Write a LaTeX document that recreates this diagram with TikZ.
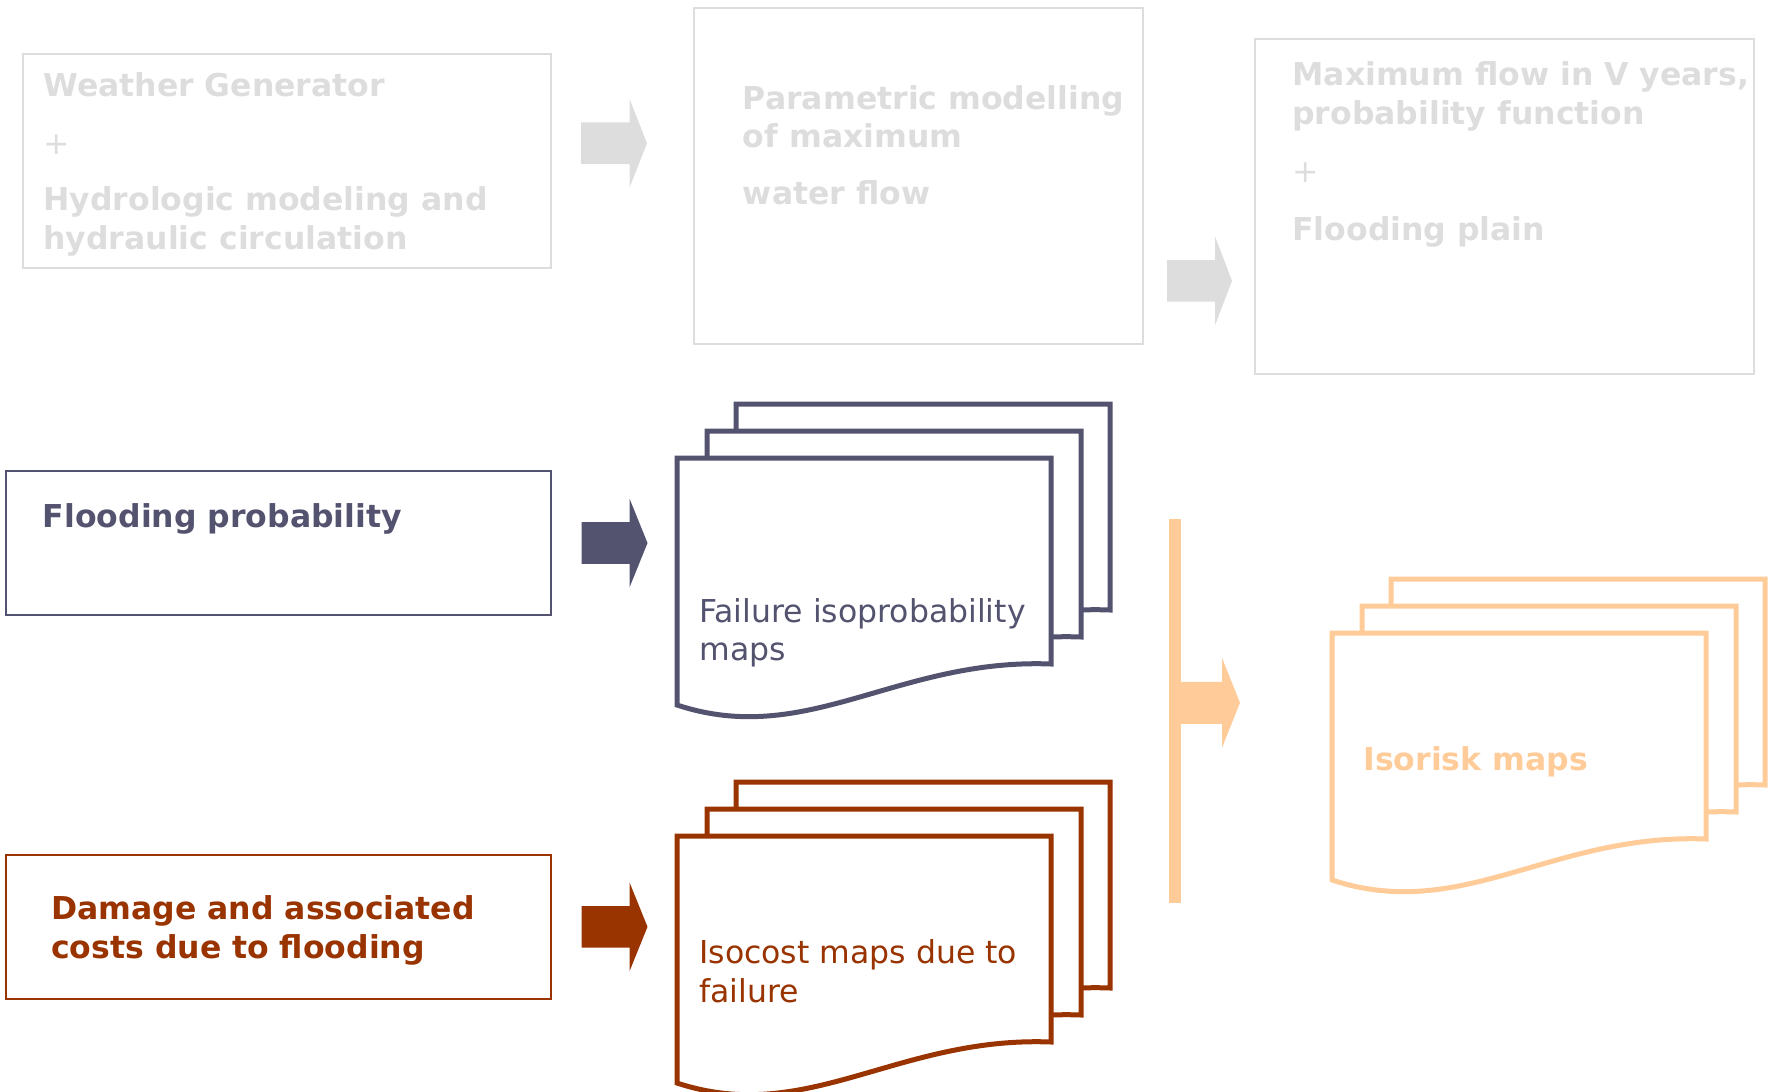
\documentclass[tikz,border=0pt]{standalone}
\usepackage{fontspec}
\setmainfont{DejaVu Sans}
\definecolor{lgrey}{HTML}{DDDDDD}
\definecolor{slate}{HTML}{535370}
\definecolor{rust}{HTML}{993300}
\definecolor{peach}{HTML}{FFCC99}
\tikzset{
  txt/.style={anchor=base west, inner sep=0pt, font=\fontsize{15.75pt}{19.25pt}\selectfont},
  btxt/.style={anchor=base west, inner sep=0pt, font=\fontsize{15.75pt}{19.25pt}\selectfont\bfseries},
  box/.style={draw, line width=1pt, inner sep=0pt},
  page/.style={fill=white, line width=2.5pt},
}
% block arrow: tail-centre coordinate, colour, shaft length, shaft half height, head half height, head length
\newcommand\blockarrow[6]{%
  \fill[#2] (#1) ++(0,-#4) -- ++(#3,0) -- ++(0,#4-#5) -- ++(#6,#5) -- ++(-#6,#5) -- ++(0,#4-#5) -- ++(-#3,0) -- cycle;}
% stack of three document pages, front page top-left at (#1,#2)
\newcommand\docstack[3]{%
  \foreach \dx/\dy in {59/-54, 30/-27, 0/0}{%
    \draw[page, draw=#3, shift={(#1+\dx,#2+\dy)}] (0,0) -- (374,0) -- (374,206)
      .. controls (220,200) and (130,290) .. (0,247) -- cycle;}}
\begin{document}
\begin{tikzpicture}[x=0.5pt, y=-0.5pt]
\useasboundingbox (0,0) rectangle (1770,1091);

% ---- top row (grey)
\node[box, draw=lgrey, minimum width=264pt, minimum height=107pt] (b1) at (286.5,161) {};
\node[box, draw=lgrey, minimum width=224.25pt, minimum height=167.5pt] (b2) at (918.25,176) {};
\node[box, draw=lgrey, minimum width=249.5pt, minimum height=167.25pt] (b3) at (1504,206.75) {};

\node[btxt, text=lgrey] (t1a) at (43,96.7) {Weather Generator};
\node[txt, text=lgrey] (t1b) at (43,155) {+};
\node[btxt, text=lgrey] (t1c) at (43,210.7) {Hydrologic modeling and};
\node[btxt, text=lgrey] (t1d) at (43,249.3) {hydraulic circulation};

\node[btxt, text=lgrey] (t2a) at (742.5,109.3) {Parametric modelling};
\node[btxt, text=lgrey] (t2b) at (742.5,147.7) {of maximum};
\node[btxt, text=lgrey] (t2c) at (742.5,204.3) {water flow};

\node[btxt, text=lgrey] (t3a) at (1292,86) {Maximum flow in V years,};
\node[btxt, text=lgrey] (t3b) at (1292,125) {probability function};
\node[txt, text=lgrey] (t3c) at (1292,183) {+};
\node[btxt, text=lgrey] (t3d) at (1292,240.5) {Flooding plain};

\coordinate (a1) at (581,143.3);
\coordinate (a2) at (1167,280.8);
\blockarrow{a1}{lgrey}{48.5}{20.8}{44.5}{17.5}
\blockarrow{a2}{lgrey}{48}{20.8}{44.5}{17}

% ---- middle row (slate)
\node[box, draw=slate, minimum width=272.25pt, minimum height=72.25pt] (b4) at (278.25,542.75) {};
\node[btxt, text=slate] (t4) at (42.5,527.7) {Flooding probability};
\coordinate (a4) at (581.5,543);
\blockarrow{a4}{slate}{48}{20.8}{44.5}{18}
\docstack{677}{458}{slate}
\node[txt, text=slate] (d4a) at (699,622.5) {Failure isoprobability};
\node[txt, text=slate] (d4b) at (699,660.5) {maps};

% ---- bottom row (rust)
\node[box, draw=rust, minimum width=272.25pt, minimum height=72.25pt] (b5) at (278.25,926.75) {};
\node[btxt, text=rust] (t5a) at (50.8,919.3) {Damage and associated};
\node[btxt, text=rust] (t5b) at (50.8,958.3) {costs due to flooding};
\coordinate (a5) at (581.5,926.8);
\blockarrow{a5}{rust}{48}{20.8}{44.5}{18}
\docstack{677}{836}{rust}
\node[txt, text=rust] (d5a) at (699,963.3) {Isocost maps due to};
\node[txt, text=rust] (d5b) at (699,1002.3) {failure};

% ---- merge bar and result (peach)
\coordinate (bartop) at (1168.5,518.5);
\coordinate (barbot) at (1180.5,902.5);
\fill[peach] (bartop) rectangle (barbot);
\coordinate (a6) at (1180,702.8);
\blockarrow{a6}{peach}{42}{21}{45}{18}
\docstack{1332}{633}{peach}
\node[btxt, text=peach] (d6) at (1363,770) {Isorisk maps};
\end{tikzpicture}
\end{document}
